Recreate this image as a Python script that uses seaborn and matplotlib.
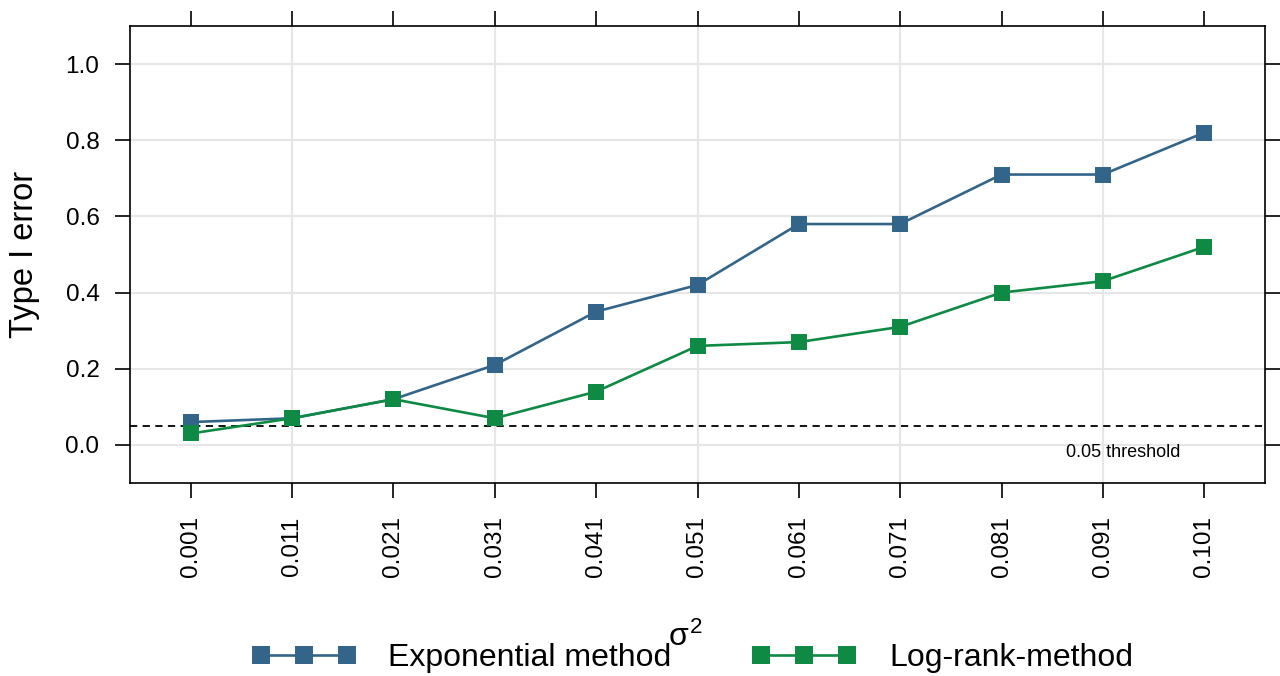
import numpy as np
import pandas as pd
import matplotlib
matplotlib.use("Agg")
import matplotlib.pyplot as plt
import matplotlib.transforms as mtransforms
import seaborn as sns

# Data: simulated type I error by variance level
sigma2 = ["0.001", "0.011", "0.021", "0.031", "0.041", "0.051",
          "0.061", "0.071", "0.081", "0.091", "0.101"]
exponential = [0.06, 0.07, 0.12, 0.21, 0.35, 0.42, 0.58, 0.58, 0.71, 0.71, 0.82]
logrank = [0.03, 0.07, 0.12, 0.07, 0.14, 0.26, 0.27, 0.31, 0.40, 0.43, 0.52]
methods = ["Exponential method", "Log-rank-method"]
colors = ["#33658A", "#0E8A44"]
y_ticks = [0.0, 0.2, 0.4, 0.6, 0.8, 1.0]
threshold = 0.05

df = pd.DataFrame({
    "sigma2": sigma2 * 2,
    "err": exponential + logrank,
    "method": [methods[0]] * len(sigma2) + [methods[1]] * len(sigma2),
})

sns.set_theme(style="white")
plt.rcParams["font.family"] = ["Liberation Sans", "DejaVu Sans"]
plt.rcParams["mathtext.fontset"] = "custom"
plt.rcParams["mathtext.rm"] = "Liberation Sans"
plt.rcParams["mathtext.it"] = "Liberation Sans"
for key in ["text.color", "axes.labelcolor", "xtick.color", "ytick.color",
            "xtick.labelcolor", "ytick.labelcolor"]:
    plt.rcParams[key] = "black"

fig = plt.figure(figsize=(12.8, 6.76), dpi=100)
ax = fig.add_axes([130 / 1280, 1 - 483 / 676, 1135 / 1280, 457 / 676])

sns.pointplot(data=df, x="sigma2", y="err", hue="method", order=sigma2,
              hue_order=methods, palette=colors, markers="s", linestyles="-",
              errorbar=None, markersize=9.5, linewidth=1.9, ax=ax, zorder=3)

# light grid: horizontal at y ticks, vertical at every other category
for y in y_ticks:
    ax.axhline(y, color="#E6E6E6", lw=1.5, zorder=0)
for i in range(1, len(sigma2), 2):
    ax.axvline(i, color="#E6E6E6", lw=1.5, zorder=0)

ax.axhline(threshold, color="black", lw=1.3, ls=(0, (4, 3)), zorder=2)
trans = mtransforms.blended_transform_factory(ax.transAxes, ax.transData)
ax.text(0.875, -0.021, "0.05 threshold", transform=trans, ha="center",
        va="center", fontsize=13)

ax.set_xlim(-0.6, len(sigma2) - 0.4)
ax.set_ylim(-0.1, 1.1)
ax.set_yticks(y_ticks)
ax.set_yticklabels([f"{v:.1f}" for v in y_ticks])
ax.set_xticks(range(len(sigma2)))
ax.set_xticklabels(sigma2, rotation=90)

for s in ax.spines.values():
    s.set_visible(True)
    s.set_color("black")
    s.set_linewidth(1.2)
ax.tick_params(axis="both", which="both", direction="out", length=11,
               width=1.2, color="black", labelsize=17.5,
               top=True, right=True, bottom=True, left=True,
               labeltop=False, labelright=False)
ax.tick_params(axis="y", pad=11)
ax.tick_params(axis="x", pad=13)
ax.grid(False)

ax.set_ylabel("Type I error", fontsize=23.5, va="center")
ax.yaxis.set_label_coords(-(130 - 25) / 1135, 0.5)
ax.set_xlabel(r"$\sigma^2$", fontsize=23, va="center")
ax.xaxis.set_label_coords((685 - 130) / 1135, -(637 - 483) / 457)

handles, labels = ax.get_legend_handles_labels()
ax.get_legend().remove()
fig.legend(handles, labels, loc="center", bbox_to_anchor=(692 / 1280, 1 - 658 / 676),
           ncol=2, frameon=False, numpoints=3, fontsize=23, handlelength=3.3,
           handletextpad=1.0, columnspacing=2.5, markerscale=1.15)

fig.savefig("out.png", dpi=100)
